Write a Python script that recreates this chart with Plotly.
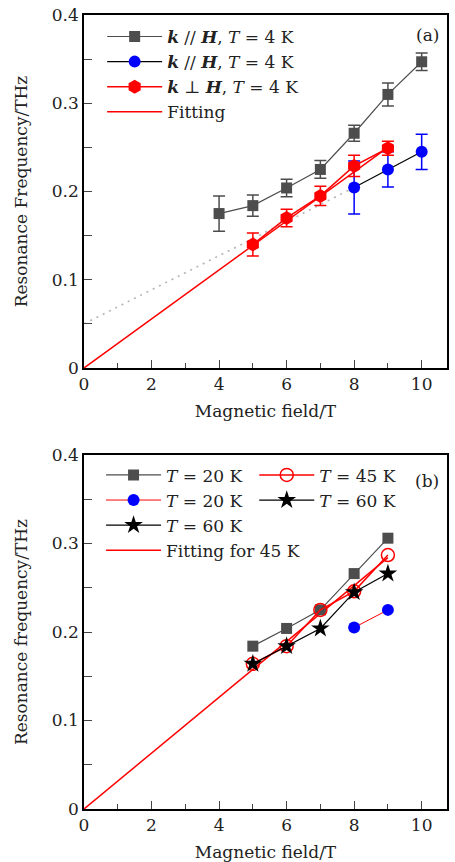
import plotly.graph_objects as go

# ---------------- Panel (a) data ----------------
a_par_x = [4, 5, 6, 7, 8, 9, 10]
a_par_y = [0.175, 0.184, 0.204, 0.225, 0.266, 0.310, 0.347]
a_par_err = [0.020, 0.012, 0.010, 0.010, 0.009, 0.013, 0.010]
a_blue_x = [8, 9, 10]
a_blue_y = [0.2045, 0.225, 0.245]
a_blue_err = [0.030, 0.020, 0.020]
a_perp_x = [5, 6, 7, 8, 9]
a_perp_y = [0.140, 0.170, 0.195, 0.229, 0.249]
a_perp_err = [0.013, 0.010, 0.011, 0.012, 0.008]
a_fit_x = [0, 9]
a_fit_y = [0.0, 0.250]
a_dot_x = [0, 8]
a_dot_y = [0.050, 0.2045]

# ---------------- Panel (b) data ----------------
b_x = [5, 6, 7, 8, 9]
b_20_y = [0.184, 0.204, 0.225, 0.266, 0.306]
b_45_y = [0.164, 0.184, 0.225, 0.246, 0.287]
b_60_y = [0.164, 0.184, 0.204, 0.245, 0.266]
b_20blue_x = [8, 9]
b_20blue_y = [0.205, 0.225]
b_fit_x = [0, 9]
b_fit_y = [0.0, 0.284]

x_ticks = [0, 2, 4, 6, 8, 10]
y_ticks = [0, 0.1, 0.2, 0.3, 0.4]

FONT = "DejaVu Serif"
FS = 17
GRAY = "#4d4d4d"
TXT = "#222"

fig = go.Figure()

def err(arr, color):
    return dict(type="data", array=arr, visible=True, color=color, thickness=1.5, width=6)

# panel a traces
fig.add_trace(go.Scatter(x=a_dot_x, y=a_dot_y, mode="lines", line=dict(color="#b4b4b4", width=1.6, dash="2px,5px"),
                         showlegend=False, xaxis="x", yaxis="y"))
fig.add_trace(go.Scatter(x=a_fit_x, y=a_fit_y, mode="lines", line=dict(color="red", width=1.5),
                         showlegend=False, xaxis="x", yaxis="y"))
fig.add_trace(go.Scatter(x=a_par_x, y=a_par_y, mode="lines+markers", error_y=err(a_par_err, GRAY),
                         line=dict(color=GRAY, width=1.2), marker=dict(symbol="square", size=11, color=GRAY),
                         name="<b><i>k</i></b> // <b><i>H</i></b>, <i>T</i> = 4 K", legend="legend",
                         xaxis="x", yaxis="y"))
fig.add_trace(go.Scatter(x=a_blue_x, y=a_blue_y, mode="lines+markers", error_y=err(a_blue_err, "blue"),
                         line=dict(color="black", width=1.2), marker=dict(symbol="circle", size=12, color="blue"),
                         name="<b><i>k</i></b> // <b><i>H</i></b>, <i>T</i> = 4 K", legend="legend",
                         xaxis="x", yaxis="y"))
fig.add_trace(go.Scatter(x=a_perp_x, y=a_perp_y, mode="lines+markers", error_y=err(a_perp_err, "red"),
                         line=dict(color="red", width=1.5), marker=dict(symbol="hexagon", size=14, color="red"),
                         name="<b><i>k</i></b> ⊥ <b><i>H</i></b>, <i>T</i> = 4 K", legend="legend",
                         xaxis="x", yaxis="y"))
fig.add_trace(go.Scatter(x=[None], y=[None], mode="lines", line=dict(color="red", width=1.5),
                         name="Fitting", legend="legend", xaxis="x", yaxis="y"))

# panel b traces
fig.add_trace(go.Scatter(x=b_fit_x, y=b_fit_y, mode="lines", line=dict(color="red", width=1.5),
                         name="Fitting for 45 K", legend="legend2", xaxis="x2", yaxis="y2"))
fig.add_trace(go.Scatter(x=b_x, y=b_20_y, mode="lines+markers",
                         line=dict(color=GRAY, width=1.2), marker=dict(symbol="square", size=11, color=GRAY),
                         name="<i>T</i> = 20 K", legend="legend2", legendrank=1, xaxis="x2", yaxis="y2"))
fig.add_trace(go.Scatter(x=b_20blue_x, y=b_20blue_y, mode="lines+markers",
                         line=dict(color="red", width=1), marker=dict(symbol="circle", size=12, color="blue"),
                         name="<i>T</i> = 20 K", legend="legend2", legendrank=2, xaxis="x2", yaxis="y2"))
fig.add_trace(go.Scatter(x=b_x, y=b_45_y, mode="lines+markers",
                         line=dict(color="red", width=1.5),
                         marker=dict(symbol="circle-open", size=13, color="red", line=dict(width=1.5)),
                         name="<i>T</i> = 45 K", legend="legend3", legendrank=1, xaxis="x2", yaxis="y2"))
fig.add_trace(go.Scatter(x=b_x, y=b_60_y, mode="lines+markers",
                         line=dict(color="black", width=1.2), marker=dict(symbol="star", size=14, color="black"),
                         name="<i>T</i> = 60 K", legend="legend2", legendrank=3, xaxis="x2", yaxis="y2"))
fig.add_trace(go.Scatter(x=[None], y=[None], mode="lines+markers",
                         line=dict(color="black", width=1.2), marker=dict(symbol="star", size=14, color="black"),
                         name="<i>T</i> = 60 K", legend="legend3", legendrank=2, xaxis="x2", yaxis="y2"))

W, H = 455, 862
ML, MR, MT, MB = 84, 8, 15, 53
ph = H - MT - MB
dom_a = [1 - (368 - MT) / ph, 1.0]
dom_b = [0.0, 1 - (455 - MT) / ph]

def xax(anchor):
    return dict(range=[0, 10.75], tickvals=x_ticks, ticks="inside", ticklen=8, tickwidth=1.2,
                minor=dict(tickvals=[1, 3, 5, 7, 9], ticks="inside", ticklen=5, tickwidth=1.2),
                showline=True, linecolor="black", linewidth=1.5, mirror=True, showgrid=False,
                zeroline=False, anchor=anchor, tickfont=dict(size=FS, color=TXT), automargin=False,
                title=dict(text="Magnetic field/T", font=dict(size=FS, color=TXT), standoff=12))

def yax(domain, anchor, title):
    return dict(range=[0, 0.4], tickvals=y_ticks, ticktext=["0", "0.1", "0.2", "0.3", "0.4"],
                ticks="inside", ticklen=8, tickwidth=1.2,
                minor=dict(tickvals=[0.05, 0.15, 0.25, 0.35], ticks="inside", ticklen=8, tickwidth=1.2),
                showline=True, linecolor="black", linewidth=1.5, mirror=True, showgrid=False,
                zeroline=False, domain=domain, anchor=anchor, tickfont=dict(size=FS, color=TXT),
                automargin=False,
                title=dict(text=title, font=dict(size=FS, color=TXT), standoff=20))

leg_common = dict(xanchor="left", yanchor="top", bgcolor="rgba(0,0,0,0)",
                  font=dict(size=FS, family=FONT, color=TXT), tracegroupgap=0, traceorder="normal",
                  itemwidth=55)

fig.update_layout(
    width=W, height=H, margin=dict(l=ML, r=MR, t=MT, b=MB, autoexpand=False),
    plot_bgcolor="white", paper_bgcolor="white",
    font=dict(family=FONT, color=TXT),
    xaxis=xax("y"), yaxis=yax(dom_a, "x", "Resonance Frequency/THz"),
    xaxis2=xax("y2"), yaxis2=yax(dom_b, "x2", "Resonance frequency/THz"),
    legend=dict(x=0.05, y=0.995, **leg_common),
    legend2=dict(x=0.047, y=dom_b[1] - 0.003, **leg_common),
    legend3=dict(x=0.469, y=dom_b[1] - 0.003, **leg_common),
    annotations=[
        dict(text="(a)", x=10.75, y=0.4, xref="x", yref="y", xanchor="right", yanchor="top",
             xshift=-6, yshift=-8, showarrow=False, font=dict(size=FS, family=FONT, color=TXT)),
        dict(text="(b)", x=10.75, y=0.4, xref="x2", yref="y2", xanchor="right", yanchor="top",
             xshift=-6, yshift=-14, showarrow=False, font=dict(size=FS, family=FONT, color=TXT)),
    ],
)

fig.write_html("out.html")
